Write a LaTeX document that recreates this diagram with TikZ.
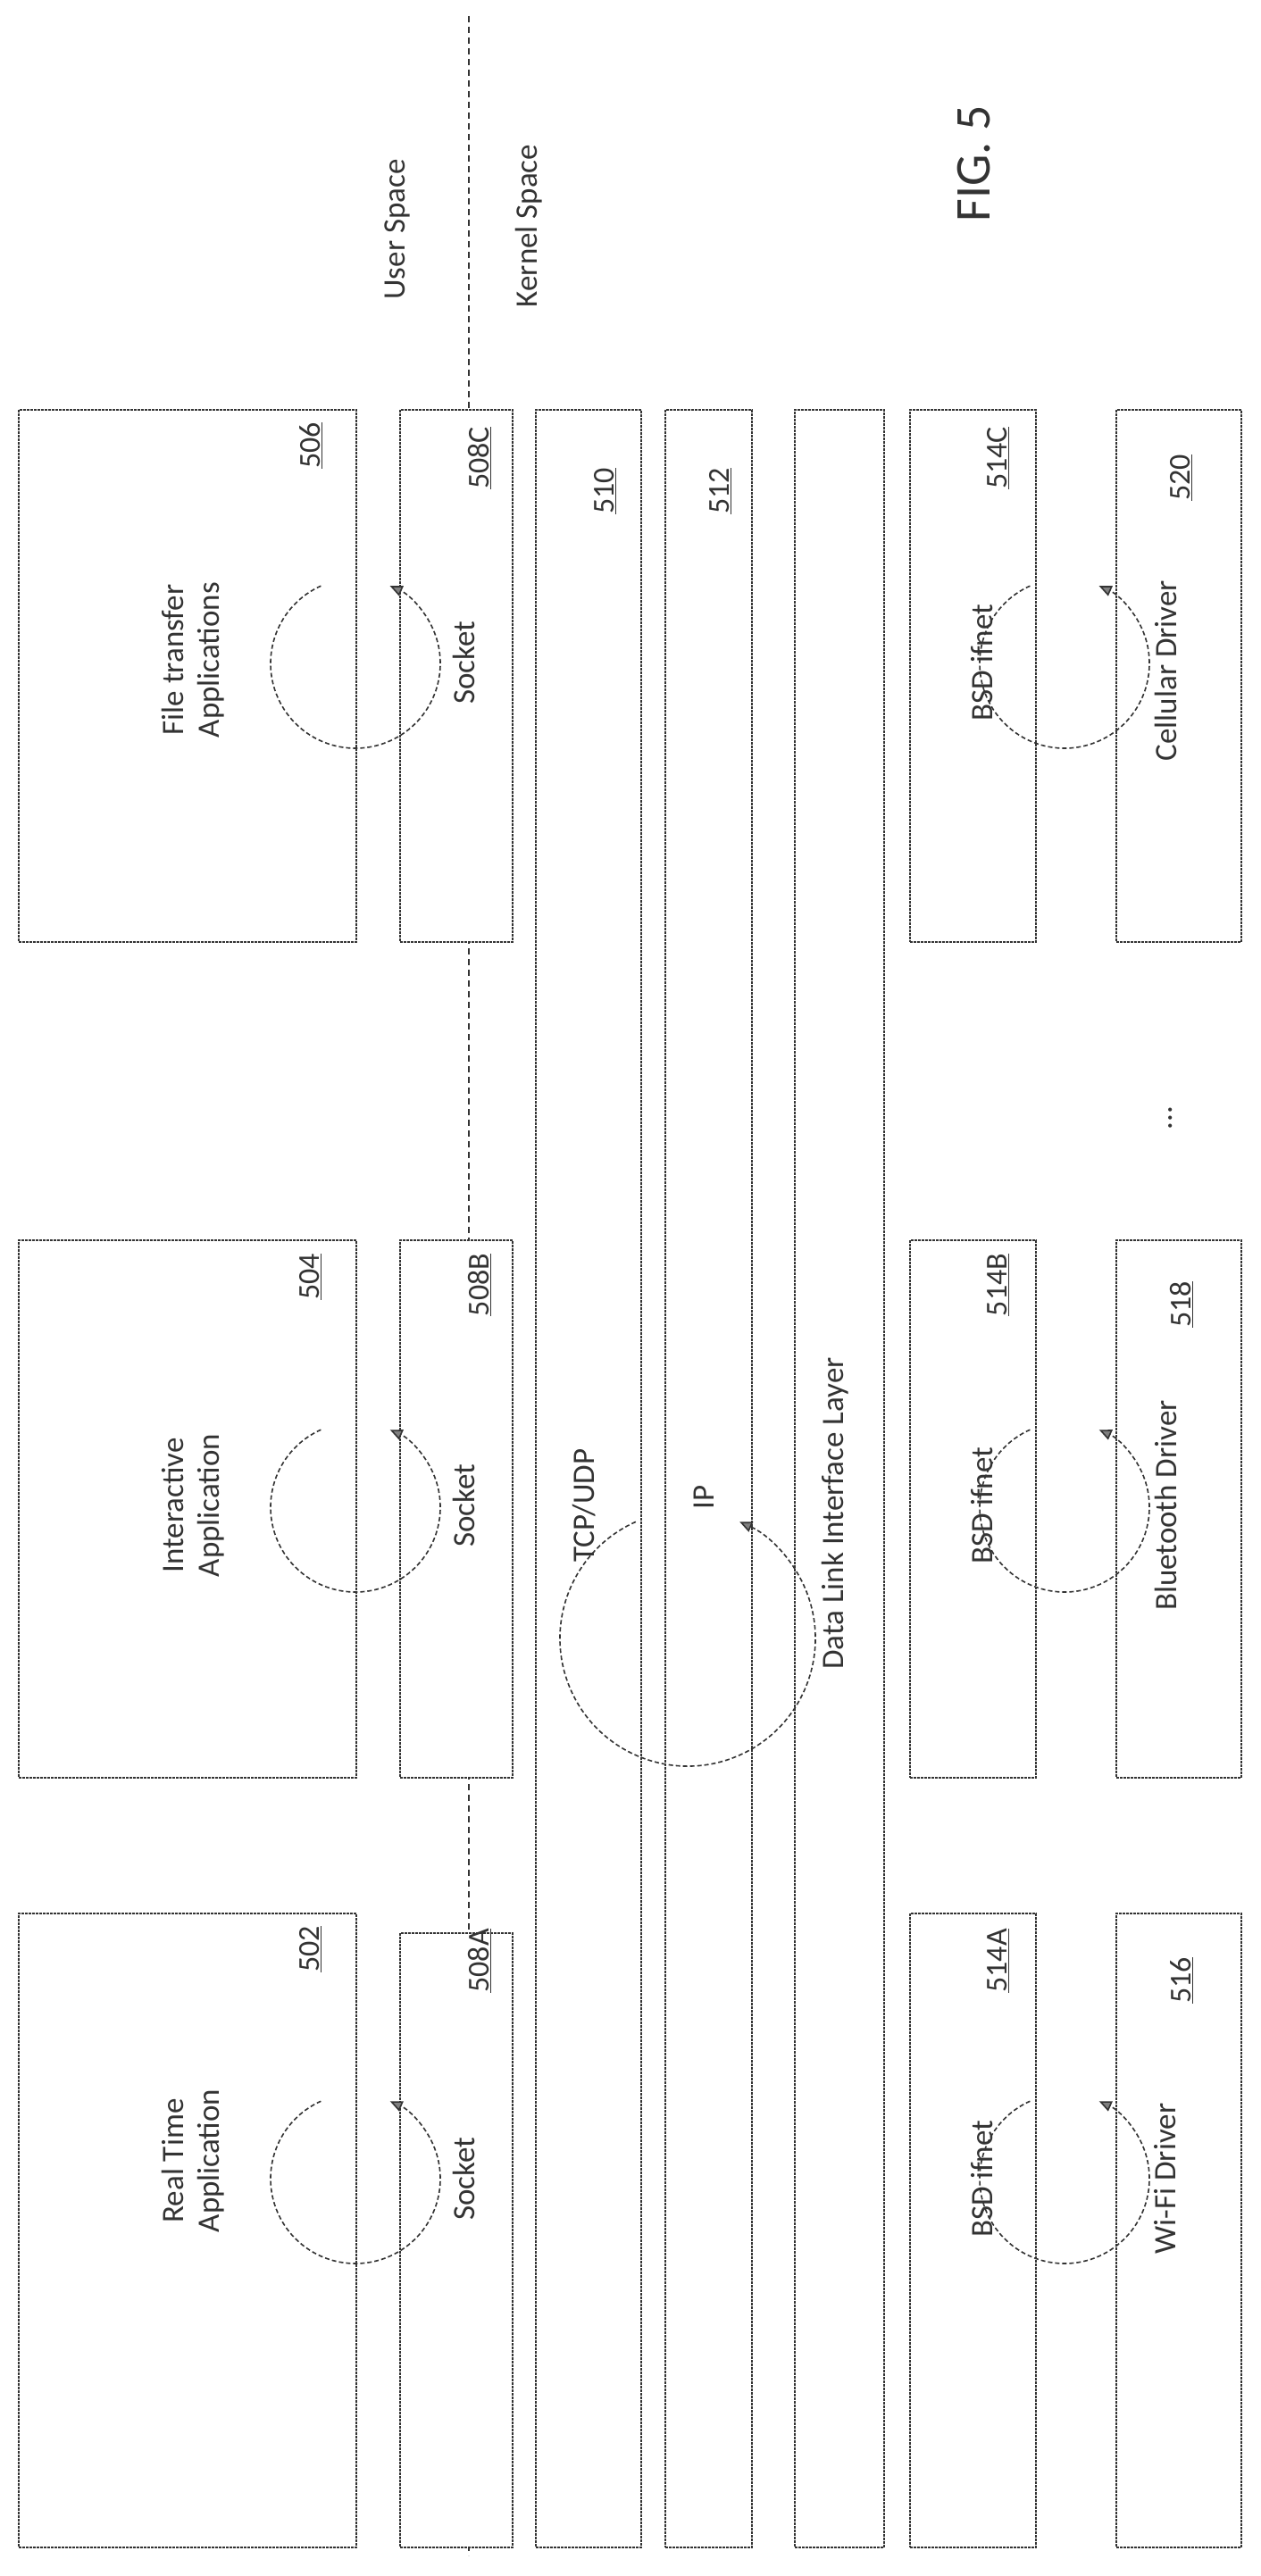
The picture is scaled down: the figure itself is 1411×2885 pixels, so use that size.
\documentclass[tikz,border=0pt]{standalone}
\usepackage{fontspec}
\setmainfont{Carlito}
\usetikzlibrary{arrows.meta,calc}
\begin{document}
\begin{tikzpicture}[x=1pt,y=-1pt,
  box/.style={draw=black!80,line width=2pt,dash pattern=on 3pt off 1pt,fill=white,inner sep=0pt},
  lbl/.style={rotate=90,font=\fontsize{35}{40}\selectfont,align=center,inner sep=0pt,text=black!80},
  num/.style={rotate=90,font=\fontsize{34}{38}\selectfont,inner sep=0pt,text=black!80},
  loop/.style={draw=black!80,line width=1.6pt,dash pattern=on 5pt off 3pt,-{Triangle[length=14pt,width=12pt,fill=black!50]}}]
\useasboundingbox (0,0) rectangle (1411,2885);
\draw[black!80,line width=1.6pt,dash pattern=on 7pt off 5pt] (525,18) coordinate (lt) -- (525,2862) coordinate (lb);
% apps
\node[box,minimum width=378,minimum height=596] (a506) at (210,757) {};
\node[box,minimum width=378,minimum height=602] (a504) at (210,1690) {};
\node[box,minimum width=378,minimum height=710] (a502) at (210,2498) {};
% sockets
\node[box,minimum width=126,minimum height=596] (s508C) at (511,757) {};
\node[box,minimum width=126,minimum height=602] (s508B) at (511,1690) {};
\node[box,minimum width=126,minimum height=688] (s508A) at (511,2509) {};
% bars
\node[box,minimum width=118,minimum height=2394] (tcp) at (659,1656) {};
\node[box,minimum width=97,minimum height=2394] (ip) at (793.5,1656) {};
\node[box,minimum width=100,minimum height=2394] (dl) at (940,1656) {};
% bsd
\node[box,minimum width=141,minimum height=596] (b514C) at (1089.5,757) {};
\node[box,minimum width=141,minimum height=602] (b514B) at (1089.5,1690) {};
\node[box,minimum width=141,minimum height=710] (b514A) at (1089.5,2498) {};
% drivers
\node[box,minimum width=140,minimum height=596] (d520) at (1320,757) {};
\node[box,minimum width=140,minimum height=602] (d518) at (1320,1690) {};
\node[box,minimum width=140,minimum height=710] (d516) at (1320,2498) {};
% loops
\foreach \cy in {743,1688,2440}{
  \draw[loop] ($(398,\cy)+(-114:95)$) arc[start angle=-114,end angle=-426,radius=95];
  \draw[loop] ($(1192,\cy)+(-114:95)$) arc[start angle=-114,end angle=-426,radius=95];
}
\draw[loop] ($(770,1835)+(-114:143)$) arc[start angle=-114,end angle=-426,radius=143];
% texts
\node[lbl] (t506) at (216,739) {File transfer\\Applications};
\node[lbl] (t504) at (216,1686) {Interactive\\Application};
\node[lbl] (t502) at (216,2420) {Real Time\\Application};
\node[lbl] (tsC) at (519,742) {Socket};
\node[lbl] (tsB) at (519,1686) {Socket};
\node[lbl] (tsA) at (519,2440) {Socket};
\node[lbl] (ttcp) at (654,1686) {TCP/UDP};
\node[lbl] (tip) at (788,1677) {IP};
\node[lbl] (tdl) at (935,1695) {Data Link Interface Layer};
\node[lbl] (tbC) at (1100,742) {BSD ifnet};
\node[lbl] (tbB) at (1100,1686) {BSD ifnet};
\node[lbl] (tbA) at (1100,2440) {BSD ifnet};
\node[lbl] (tdC) at (1305,751) {Cellular Driver};
\node[lbl] (tdB) at (1305,1686) {Bluetooth Driver};
\node[lbl] (tdA) at (1305,2440) {Wi-Fi Driver};
\node[lbl] (dots) at (1311,1252) {...};
\node[num] at (348,499) {\underline{506}};
\node[num] at (348,1430) {\underline{504}};
\node[num] at (348,2183) {\underline{502}};
\node[num] at (537,513) {\underline{508C}};
\node[num] at (537,1439) {\underline{508B}};
\node[num] at (537,2196) {\underline{508A}};
\node[num] at (678,550) {\underline{510}};
\node[num] at (807,550) {\underline{512}};
\node[num] at (1118,513) {\underline{514C}};
\node[num] at (1118,1439) {\underline{514B}};
\node[num] at (1118,2196) {\underline{514A}};
\node[num] at (1323,535) {\underline{520}};
\node[num] at (1323,1461) {\underline{518}};
\node[num] at (1323,2218) {\underline{516}};
\node[lbl] (us) at (445,257) {User Space};
\node[lbl] (ks) at (592,253) {Kernel Space};
\node[rotate=90,font=\fontsize{56}{60}\selectfont,text=black!80] (fig) at (1091,183) {FIG. 5};
\end{tikzpicture}
\end{document}
